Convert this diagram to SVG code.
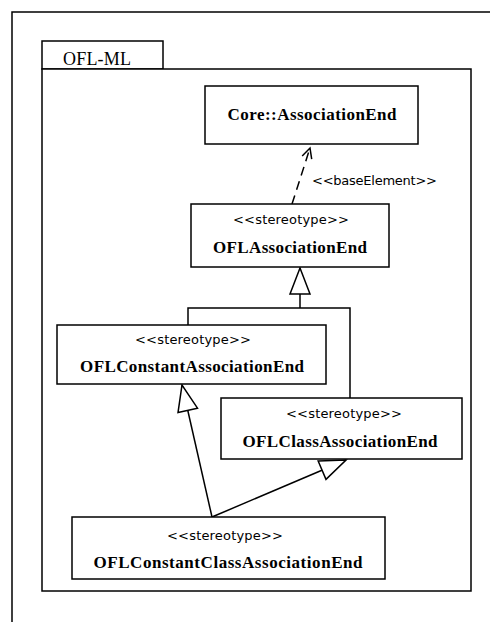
<svg xmlns="http://www.w3.org/2000/svg" width="490" height="622" viewBox="0 0 490 622">
  <style>
    .frame { fill: none; stroke: #000; stroke-width: 1.5; }
    .box { fill: #fff; stroke: #000; stroke-width: 1.5; }
    .edge { fill: none; stroke: #000; stroke-width: 1.5; }
    .dep { fill: none; stroke: #000; stroke-width: 1.5; stroke-dasharray: 9 6; }
    .name { font-family: "Liberation Serif", "Times New Roman", serif; font-weight: bold; font-size: 17px; fill: #000; text-anchor: middle; }
    .stereo { font-family: "DejaVu Sans", "Verdana", sans-serif; font-size: 13px; fill: #000; text-anchor: middle; }
    .pkg { font-family: "Liberation Serif", "Times New Roman", serif; font-size: 18px; fill: #000; }
  </style>
  <defs>
    <!-- hollow triangle for generalization -->
    <marker id="gen" viewBox="-2 -2 30 24" refX="26" refY="10" markerWidth="30" markerHeight="24" markerUnits="userSpaceOnUse" orient="auto">
      <path d="M0,0 L26,10 L0,20 Z" fill="#fff" stroke="#000" stroke-width="1.5"/>
    </marker>
    <!-- open arrowhead for dependency -->
    <marker id="open" viewBox="-2 -2 14 14" refX="10" refY="5" markerWidth="14" markerHeight="14" markerUnits="userSpaceOnUse" orient="auto">
      <path d="M0,0 L10,5 L0,10" fill="none" stroke="#000" stroke-width="1.5"/>
    </marker>
  </defs>

  <!-- outer frame -->
  <path class="frame" d="M12,622 V12 H490"/>

  <!-- package -->
  <g id="package-ofl-ml">
    <rect class="box" x="42" y="41" width="121" height="28"/>
    <rect class="box" x="42" y="69" width="429" height="522"/>
    <text class="pkg" x="63" y="65" textLength="68">OFL-ML</text>
  </g>

  <!-- connectors -->
  <g id="connectors">
    <path class="dep" d="M292,204 L310,148" marker-end="url(#open)"/>
    <text class="stereo" x="312" y="185" style="text-anchor:start" textLength="125">&lt;&lt;baseElement&gt;&gt;</text>
    <path class="edge" d="M188,325 V308 H350 V398"/>
    <path class="edge" d="M300,308 V268" marker-end="url(#gen)"/>
    <path class="edge" d="M212,517 L182,385" marker-end="url(#gen)"/>
    <path class="edge" d="M212,517 L346,460" marker-end="url(#gen)"/>
  </g>

  <g id="core-association-end">
    <rect class="box" x="205" y="86" width="213" height="58"/>
    <text class="name" x="312" y="120" textLength="169">Core::AssociationEnd</text>
  </g>

  <g id="ofl-association-end">
    <rect class="box" x="191" y="204" width="198" height="63"/>
    <text class="stereo" x="291" y="224" textLength="116">&lt;&lt;stereotype&gt;&gt;</text>
    <text class="name" x="290" y="253" textLength="154">OFLAssociationEnd</text>
  </g>

  <g id="ofl-constant-association-end">
    <rect class="box" x="57" y="325" width="269" height="59"/>
    <text class="stereo" x="193" y="344" textLength="116">&lt;&lt;stereotype&gt;&gt;</text>
    <text class="name" x="192" y="372" textLength="224">OFLConstantAssociationEnd</text>
  </g>

  <g id="ofl-class-association-end">
    <rect class="box" x="221" y="398" width="241" height="61"/>
    <text class="stereo" x="344" y="418" textLength="116">&lt;&lt;stereotype&gt;&gt;</text>
    <text class="name" x="340" y="447" textLength="195">OFLClassAssociationEnd</text>
  </g>

  <g id="ofl-constant-class-association-end">
    <rect class="box" x="72" y="517" width="313" height="62"/>
    <text class="stereo" x="225" y="540" textLength="116">&lt;&lt;stereotype&gt;&gt;</text>
    <text class="name" x="228" y="568" textLength="269">OFLConstantClassAssociationEnd</text>
  </g>
</svg>
